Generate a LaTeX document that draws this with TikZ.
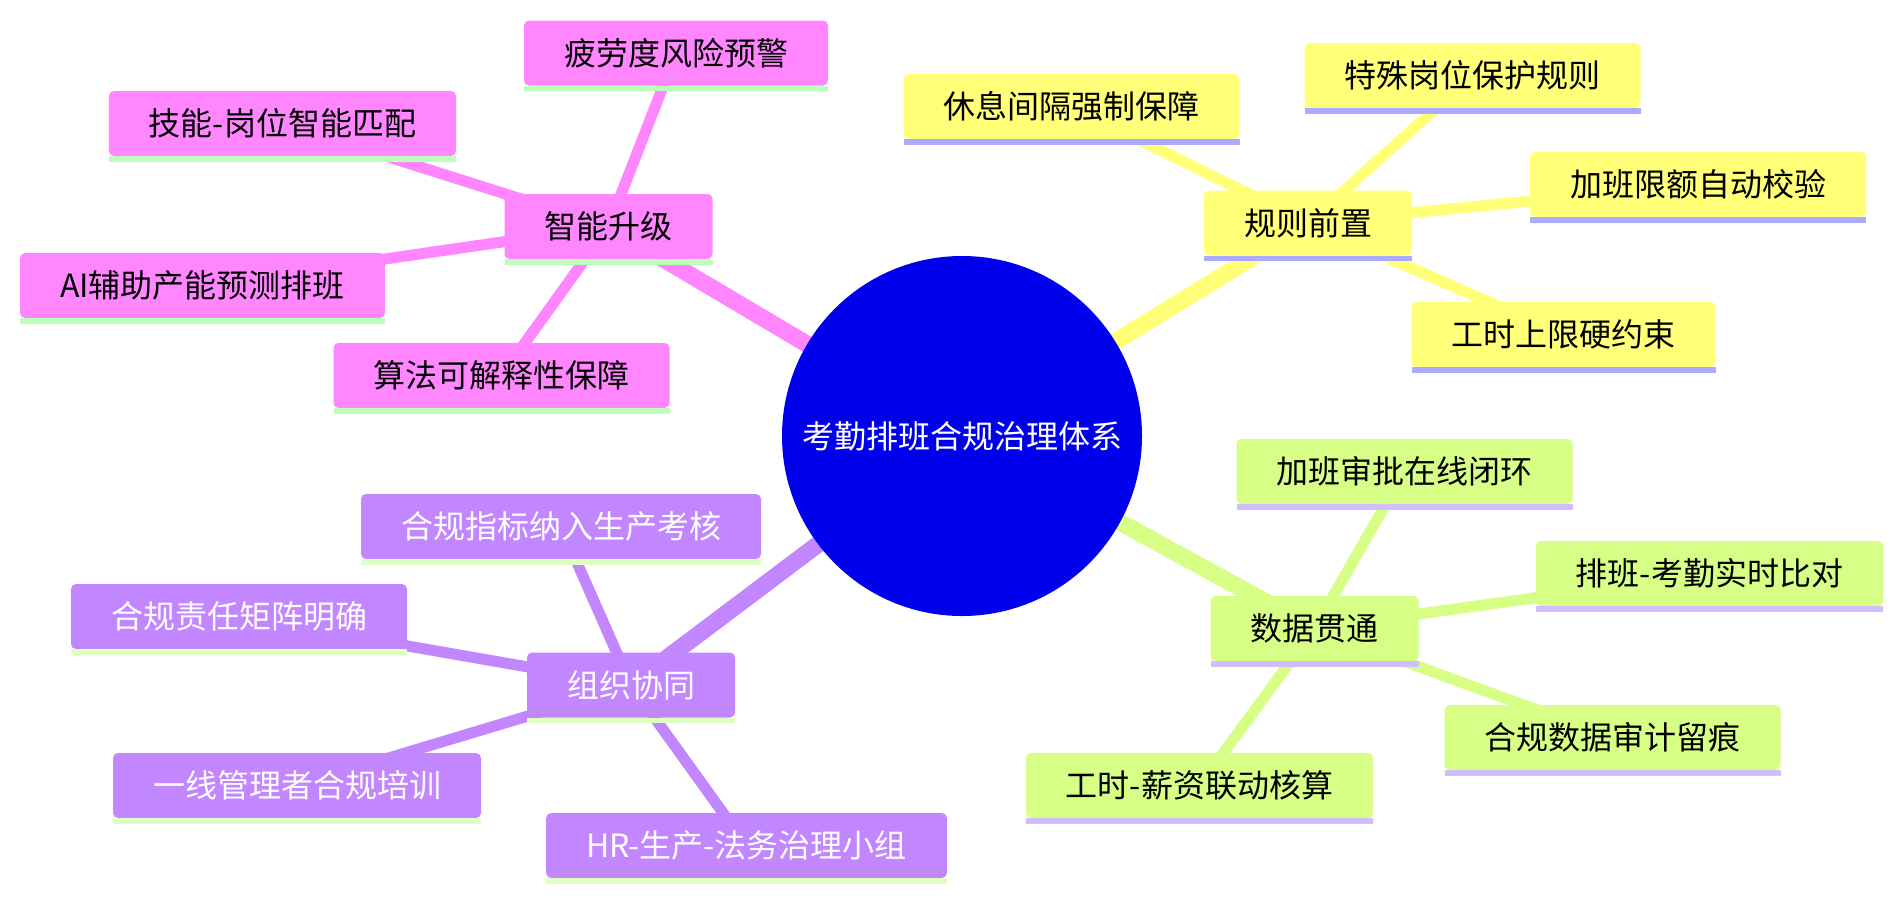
\documentclass[tikz,border=0pt]{standalone}
\usepackage{fontspec}
\usetikzlibrary{backgrounds}
\newfontfamily\cjk{Noto Sans CJK SC}

\definecolor{rootblue}{RGB}{0,0,236}
\definecolor{pinkfill}{RGB}{255,134,255}
\definecolor{pinkline}{RGB}{187,255,187}
\definecolor{yellowfill}{RGB}{255,255,120}
\definecolor{yellowline}{RGB}{170,170,255}
\definecolor{greenfill}{RGB}{215,255,134}
\definecolor{greenline}{RGB}{210,190,255}
\definecolor{purplefill}{RGB}{194,134,255}
\definecolor{purpleline}{RGB}{221,255,192}

\begin{document}
\begin{tikzpicture}[x=1pt, y=-1pt,
	% Define the style for the nodes
	every node/.style={font=\cjk\fontsize{32}{38}\selectfont, outer sep=0pt},
	box/.style={rectangle, rounded corners=5pt, inner xsep=40pt, inner ysep=0pt, minimum height=65pt},
	root/.style={circle, fill=rootblue, text=white, minimum size=360pt, inner sep=0pt},
	pinkbox/.style={box, fill=pinkfill},
	yellowbox/.style={box, fill=yellowfill},
	greenbox/.style={box, fill=greenfill},
	purplebox/.style={box, fill=purplefill, text=white},
	mainedge/.style={line width=17pt},
	leafedge/.style={line width=11pt}
	]
	\useasboundingbox (0,0) rectangle (1902,900);
	
	% --- ROOT ---
	\node (root) at (962, 436) [root] {考勤排班合规治理体系};
	
	% --- SMART UPGRADE ---
	\node (smart)    at (608.5, 226.5) [pinkbox] {智能升级};
	\node (fatigue)  at (676, 53)      [pinkbox] {疲劳度风险预警};
	\node (skill)    at (282.5, 123.5) [pinkbox] {技能-岗位智能匹配};
	\node (aipred)   at (202.5, 285.5) [pinkbox] {AI辅助产能预测排班};
	\node (explain)  at (501.5, 375.5) [pinkbox] {算法可解释性保障};
	
	% --- RULES FIRST ---
	\node (rules)    at (1308, 223)    [yellowbox] {规则前置};
	\node (rest)     at (1071.5, 106.5) [yellowbox] {休息间隔强制保障};
	\node (special)  at (1472.5, 75.5) [yellowbox] {特殊岗位保护规则};
	\node (overtime) at (1698, 184.5)  [yellowbox] {加班限额自动校验};
	\node (hours)    at (1563.5, 334.5) [yellowbox] {工时上限硬约束};
	
	% --- DATA LINK ---
	\node (data)     at (1314.5, 628.5) [greenbox] {数据贯通};
	\node (approve)  at (1404.5, 471.5) [greenbox] {加班审批在线闭环};
	\node (compare)  at (1709.5, 573.5) [greenbox] {排班-考勤实时比对};
	\node (audit)    at (1612.5, 737.5) [greenbox] {合规数据审计留痕};
	\node (payroll)  at (1199.5, 785.5) [greenbox] {工时-薪资联动核算};
	
	% --- ORGANISATION ---
	\node (org)      at (631, 685)     [purplebox] {组织协同};
	\node (kpi)      at (561, 526.5)   [purplebox] {合规指标纳入生产考核};
	\node (matrix)   at (239, 616.5)   [purplebox] {合规责任矩阵明确};
	\node (training) at (297, 785.5)   [purplebox] {一线管理者合规培训};
	\node (team)     at (746.5, 845.5) [purplebox] {HR-生产-法务治理小组};
	
	% coloured underline of every box
	\foreach \n/\l in {smart/pinkline, fatigue/pinkline, skill/pinkline, aipred/pinkline, explain/pinkline,
		rules/yellowline, rest/yellowline, special/yellowline, overtime/yellowline, hours/yellowline,
		data/greenline, approve/greenline, compare/greenline, audit/greenline, payroll/greenline,
		org/purpleline, kpi/purpleline, matrix/purpleline, training/purpleline, team/purpleline}
		\fill[\l] (\n.south west) rectangle ([yshift=-5.5pt]\n.south east);
	
	% --- EDGES ---
	\begin{scope}[on background layer]
		\draw[mainedge, pinkfill]   (root.center) -- (smart.center);
		\draw[mainedge, yellowfill] (root.center) -- (rules.center);
		\draw[mainedge, greenfill]  (root.center) -- (data.center);
		\draw[mainedge, purplefill] (root.center) -- (org.center);
		
		\foreach \a in {fatigue, skill, aipred, explain}
			\draw[leafedge, pinkfill] (smart.center) -- (\a.center);
		\foreach \a in {rest, special, overtime, hours}
			\draw[leafedge, yellowfill] (rules.center) -- (\a.center);
		\foreach \a in {approve, compare, audit, payroll}
			\draw[leafedge, greenfill] (data.center) -- (\a.center);
		\foreach \a in {kpi, matrix, training, team}
			\draw[leafedge, purplefill] (org.center) -- (\a.center);
	\end{scope}
	
\end{tikzpicture}
\end{document}
